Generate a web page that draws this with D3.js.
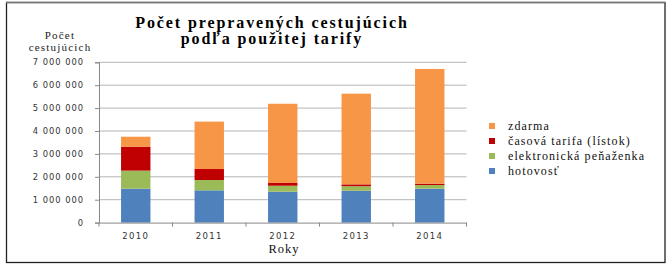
<!DOCTYPE html>
<html><head><meta charset="utf-8">
<script src="https://cdn.jsdelivr.net/npm/d3@7"></script>
<style>
body{margin:0;background:#fff;}
svg{display:block;}
.serif{font-family:'Liberation Serif','Times New Roman',serif;}
.sans{font-family:'DejaVu Sans',sans-serif;}
</style></head>
<body>
<svg id="c" width="672" height="266"></svg>
<script>
const years = ["2010","2011","2012","2013","2014"];
const seriesNames = ["hotovosť","elektronická peňaženka","časová tarifa (lístok)","zdarma"];
const seriesColors = ["#4F81BD","#9BBB59","#C00000","#F79646"];
const hotovost = [1480000,1410000,1350000,1390000,1480000];
const elektronicka = [790000,450000,260000,200000,160000];
const casova = [1040000,480000,120000,80000,60000];
const zdarma = [440000,2070000,3460000,3960000,5010000];
const yTicks = [0,1000000,2000000,3000000,4000000,5000000,6000000,7000000];

const svg = d3.select("#c");
const m = {left:99, right:466.5, top:62.3, bottom:222.6};

// frame
svg.append("rect").attr("x",6.5).attr("y",2.5).attr("width",658.5).attr("height",260)
  .attr("fill","none").attr("stroke","#222").attr("stroke-width",1.3);
svg.append("line").attr("x1",6).attr("x2",665).attr("y1",2.5).attr("y2",2.5)
  .attr("stroke","#777").attr("stroke-width",1.3);

const x = d3.scaleBand().domain(years).range([m.left,m.right]).paddingInner(0.6).paddingOuter(0.3);
const y = d3.scaleLinear().domain([0,7000000]).range([m.bottom,m.top]);

// gridlines
svg.append("g").selectAll("line").data(yTicks.slice(1)).join("line")
  .attr("x1",m.left).attr("x2",m.right)
  .attr("y1",d=>y(d)).attr("y2",d=>y(d))
  .attr("stroke","#b4b4b4").attr("stroke-width",1);

// stacked bars
const rows = years.map((yr,i)=>({year:yr, s0:hotovost[i], s1:elektronicka[i], s2:casova[i], s3:zdarma[i]}));
const stack = d3.stack().keys(["s0","s1","s2","s3"])(rows);
svg.append("g").selectAll("g").data(stack).join("g")
  .attr("fill",(d,i)=>seriesColors[i])
  .selectAll("rect").data(d=>d).join("rect")
  .attr("x",d=>x(d.data.year)).attr("width",x.bandwidth())
  .attr("y",d=>y(d[1])).attr("height",d=>y(d[0])-y(d[1]));

// y axis
const yAxis = d3.axisLeft(y).tickValues(yTicks).tickSize(4).tickPadding(11)
  .tickFormat(d=>d3.format(",")(d).replace(/,/g," "));
const gy = svg.append("g").attr("transform",`translate(${m.left},0)`).call(yAxis);
gy.attr("font-family",null).attr("font-size",null);
gy.select(".domain").attr("stroke","#888");
gy.selectAll(".tick line").attr("stroke","#888");
gy.selectAll(".tick text").attr("fill","#333").attr("class","sans")
  .style("font-size","8.3px").attr("letter-spacing","1px");

// x axis
const xAxis = d3.axisBottom(x).tickSize(0).tickPadding(10);
const gx = svg.append("g").attr("transform",`translate(0,${m.bottom})`).call(xAxis);
gx.attr("font-family",null).attr("font-size",null);
gx.select(".domain").attr("stroke","#888");
gx.selectAll(".tick text").attr("fill","#333").attr("class","sans")
  .style("font-size","8.5px").attr("letter-spacing","1.3px");
// category boundary ticks
const bounds = d3.range(years.length+1).map(i=>m.left + i*(m.right-m.left)/years.length);
svg.append("g").selectAll("line").data(bounds).join("line")
  .attr("x1",d=>d).attr("x2",d=>d).attr("y1",m.bottom).attr("y2",m.bottom+4)
  .attr("stroke","#888");

// title
const title = svg.append("text").attr("class","serif").attr("text-anchor","middle")
  .style("font-weight","bold").style("font-size","16px").attr("letter-spacing","1.9px").attr("fill","#000");
title.append("tspan").attr("x",272).attr("y",28).text("Počet prepravených cestujúcich");
title.append("tspan").attr("x",272).attr("y",43.5).text("podľa použitej tarify");

// y axis title
const yt = svg.append("text").attr("class","serif").attr("text-anchor","middle")
  .style("font-size","11px").attr("fill","#222").attr("letter-spacing","1.2px");
yt.append("tspan").attr("x",60).attr("y",39).text("Počet");
yt.append("tspan").attr("x",60).attr("y",50.5).text("cestujúcich");

// x axis title
svg.append("text").attr("class","serif").attr("x",284).attr("y",253).attr("text-anchor","middle")
  .style("font-size","12.5px").attr("fill","#111").attr("letter-spacing","1px").text("Roky");

// legend
const legOrder = [3,2,1,0];
const lg = svg.append("g").selectAll("g").data(legOrder).join("g")
  .attr("transform",(d,i)=>`translate(489,${126 + i*15})`);
lg.append("rect").attr("x",0).attr("y",-3).attr("width",6).attr("height",6)
  .attr("fill",d=>seriesColors[d]);
lg.append("text").attr("class","serif").attr("x",19).attr("y",4)
  .style("font-size","12px").attr("letter-spacing","1.1px").attr("fill","#111")
  .text(d=>seriesNames[d]);
</script>
</body></html>
